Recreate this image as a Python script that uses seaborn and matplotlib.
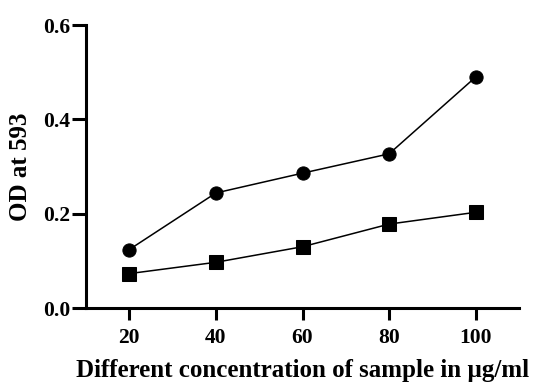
import matplotlib
matplotlib.use("Agg")
import matplotlib.pyplot as plt
import seaborn as sns
import pandas as pd

concentration = [20, 40, 60, 80, 100]
series_circle = [0.124, 0.244, 0.286, 0.327, 0.490]
series_square = [0.073, 0.097, 0.130, 0.178, 0.203]
x_ticks = [20, 40, 60, 80, 100]
y_ticks = [0.0, 0.2, 0.4, 0.6]

sns.set_theme(style="ticks")
plt.rcParams['font.family'] = ['Liberation Serif', 'DejaVu Serif']
plt.rcParams['font.weight'] = 'bold'
plt.rcParams['text.color'] = 'black'
plt.rcParams['axes.labelcolor'] = 'black'
plt.rcParams['xtick.color'] = 'black'
plt.rcParams['ytick.color'] = 'black'
plt.rcParams['axes.edgecolor'] = 'black'

df = pd.concat([
    pd.DataFrame({"x": concentration, "y": series_circle, "s": "circle"}),
    pd.DataFrame({"x": concentration, "y": series_square, "s": "square"}),
])

fig = plt.figure(figsize=(5.34, 3.86), dpi=100)
ax = fig.add_axes([0.161, 0.202, 0.811, 0.733])

sns.lineplot(data=df, x="x", y="y", style="s", markers={"circle": "o", "square": "s"},
             dashes=False, color="black", linewidth=1.1, markersize=9.5,
             markeredgecolor="black", legend=False, ax=ax)

ax.set_xlim(10, 110)
ax.set_ylim(0, 0.6)
ax.set_xticks(x_ticks)
ax.set_yticks(y_ticks)
ax.set_yticklabels([f"{v:.1f}" for v in y_ticks])
for s in ["top", "right"]:
    ax.spines[s].set_visible(False)
for s in ["left", "bottom"]:
    ax.spines[s].set_linewidth(2.2)
    ax.spines[s].set_color("black")
ax.tick_params(axis="both", width=2.2, labelsize=15.5, colors="black", labelcolor="black")
ax.tick_params(axis="y", length=10, pad=1.5)
ax.tick_params(axis="x", length=8.5, pad=6)
for lab in ax.get_xticklabels() + ax.get_yticklabels():
    lab.set_fontweight("bold")
    lab.set_color("black")
ax.set_xlabel("Different concentration of sample in µg/ml", fontsize=18, fontweight="bold",
              labelpad=8, color="black")
ax.set_ylabel("OD at 593", fontsize=18, fontweight="bold", labelpad=8, color="black")

fig.savefig("out.png", dpi=100)
